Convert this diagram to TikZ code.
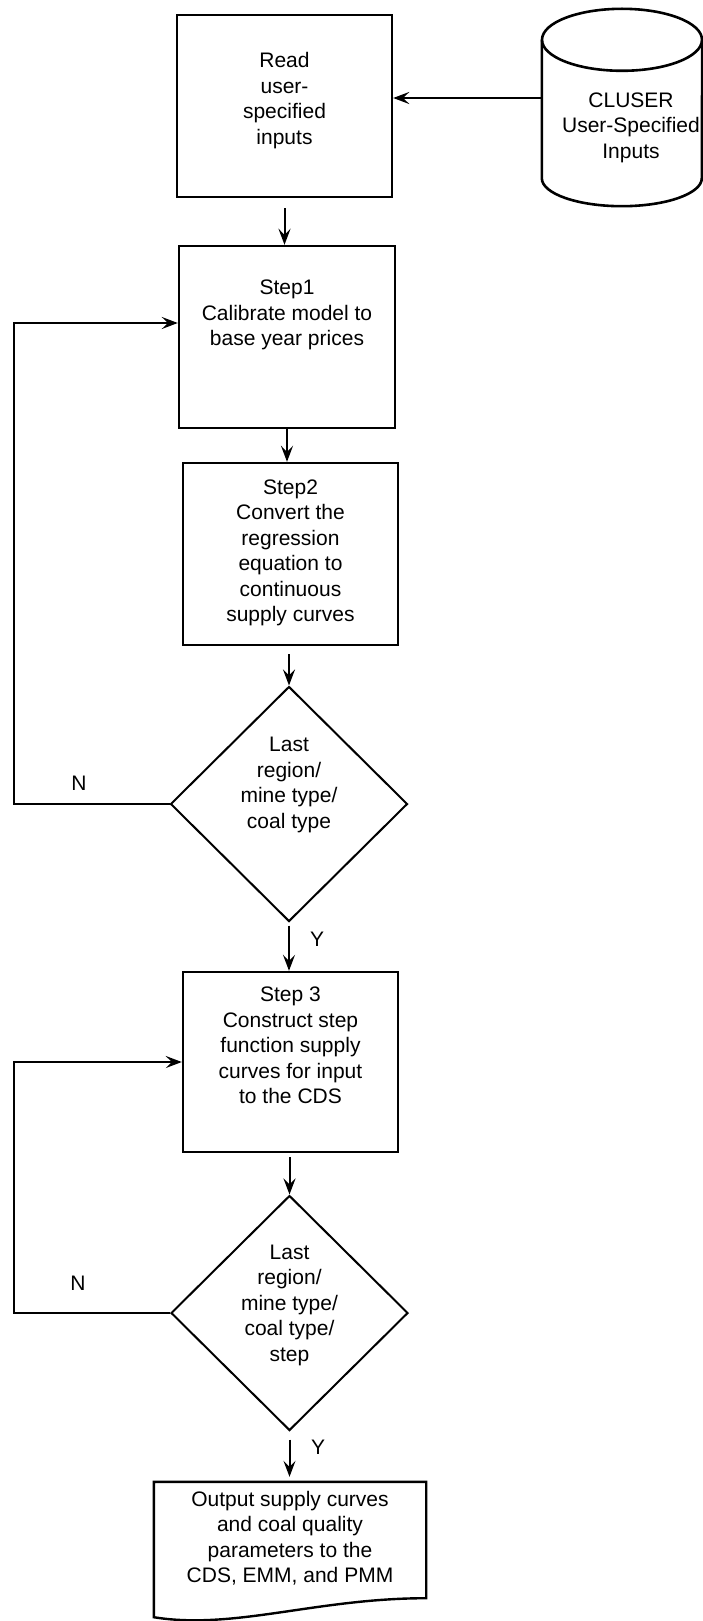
\documentclass[tikz,border=0pt]{standalone}
\usepackage{fontspec}
\setmainfont{Liberation Sans}
\usetikzlibrary{arrows.meta,shapes.geometric,calc}
\newcommand\tx[3][0pt]{\makebox[0pt]{\hspace*{#1}\raisebox{\dimexpr#2-5.25pt\relax}[0pt][0pt]{\begin{tabular}{@{}c@{}}#3\end{tabular}}}}
\begin{document}
\begin{tikzpicture}[x=1pt,y=-1pt,
  every node/.style={font=\fontsize{21}{25.5}\selectfont, inner sep=0pt},
  procbox/.style={draw, line width=2.4pt, rectangle, minimum width=215pt, minimum height=182pt},
  decision/.style={draw, line width=2pt, diamond, aspect=1, minimum width=237pt, minimum height=235pt},
  arr/.style={line width=2pt, -{Stealth[length=16pt,width=12pt,inset=6pt]}},
  cyl/.style={line width=2.6pt},
  docshape/.style={line width=2.4pt, line join=miter}]
\useasboundingbox (0,0) rectangle (703,1621);

% nodes
\node[procbox] (read) at (284.5,106) {\tx{5pt}{Read\\user-\\specified\\inputs}};
\node[minimum width=160pt, minimum height=138pt] (db) at (622,109) {\tx[18pt]{-18.5pt}{CLUSER\\User-Specified\\Inputs}};
\node[procbox, minimum width=216pt] (s1) at (287,337) {\tx{22pt}{Step1\\Calibrate model to\\base year prices}};
\node[procbox] (s2) at (290.5,554) {\tx{1pt}{Step2\\Convert the\\regression\\equation to\\continuous\\supply curves}};
\node[decision] (d1) at (289,804) {\tx{19pt}{Last\\region/\\mine type/\\coal type}};
\node[procbox, minimum height=180pt] (s3) at (290.5,1062) {\tx{14.5pt}{Step 3\\Construct step\\function supply\\curves for input\\to the CDS}};
\node[decision] (d2) at (289.5,1313) {\tx{8pt}{Last\\region/\\mine type/\\coal type/\\step}};
\node[minimum width=272pt, minimum height=116pt] (out) at (290,1540) {\tx{0.5pt}{Output supply curves\\and coal quality\\parameters to the\\CDS, EMM, and PMM}};

% cylinder
\draw[cyl] (db.north) ellipse [x radius=80pt, y radius=31pt];
\draw[cyl] (db.north west) -- (db.south west) arc[start angle=180, end angle=360, x radius=80pt, y radius=28pt] -- (db.north east);

% document shape
\draw[docshape] (out.south east) -- (out.north east) -- (out.north west) -- ([yshift=-19pt]out.south west)
  .. controls ($(out.south west)+(80,32)$) and ($(out.south east)+(-110,0)$) .. (out.south east) -- cycle;

% labels
\node (n1) at (79,783) {N};
\node (y1) at (317,939) {Y};
\node (n2) at (78,1283) {N};
\node (y2) at (318,1447) {Y};

% connectors
\coordinate (dbin) at ([yshift=11pt]db.west);
\draw[arr] (dbin) -- (dbin -| read.east);
\draw[arr, shorten <=10pt] (read.south) -- (read.south |- s1.north);
\draw[arr] (s1.south) -- (s1.south |- s2.north);
\draw[arr, shorten <=8pt] (d1.north |- s2.south) -- (d1.north);
\draw[arr, shorten <=3pt] (d1.south) -- (d1.south |- s3.north);
\draw[arr, shorten <=4pt] (d2.north |- s3.south) -- (d2.north);
\draw[arr, shorten <=8pt, shorten >=5pt] (d2.south) -- (d2.south |- out.north);

\coordinate (lx) at (14,0);
\coordinate (s1in) at ([yshift=14pt]s1.west);
\draw[arr] (d1.west) -- (d1.west -| lx) |- (s1in);
\draw[arr] (d2.west) -- (d2.west -| lx) |- (s3.west);
\end{tikzpicture}
\end{document}
